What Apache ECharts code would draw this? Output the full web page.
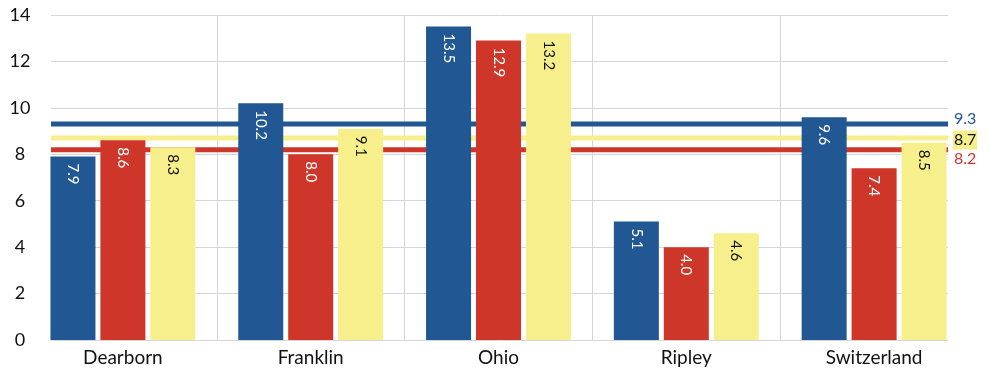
<!DOCTYPE html>
<html>
<head>
<meta charset="utf-8">
<script src="https://cdn.jsdelivr.net/npm/echarts@6/dist/echarts.min.js"></script>
<style>
  html, body { margin: 0; padding: 0; background: #fff; }
  #chart { width: 989px; height: 373px; }
</style>
</head>
<body>
<div id="chart"></div>
<script>
// County values for three series, plus each series' average
const counties = ['Dearborn', 'Franklin', 'Ohio', 'Ripley', 'Switzerland'];
const blueValues = [7.9, 10.2, 13.5, 5.1, 9.6];
const redValues = [8.6, 8.0, 12.9, 4.0, 7.4];
const yellowValues = [8.3, 9.1, 13.2, 4.6, 8.5];
const averages = { blue: 9.3, yellow: 8.7, red: 8.2 };
const yTicks = { min: 0, max: 14, interval: 2 };

const FONT = 'Lato, "Open Sans", sans-serif';
const BLUE = '#215793';
const RED = '#cd3629';
const YELLOW = '#f7ef8b';
const GRID_GRAY = '#d6d6d6';

function barSeries(name, values, color, textColor) {
  return {
    name: name,
    type: 'bar',
    xAxisIndex: 0,
    yAxisIndex: 0,
    data: values,
    barWidth: 45,
    barGap: '11%',
    z: 3,
    itemStyle: { color: color },
    label: {
      show: true,
      position: 'insideTop',
      distance: 7,
      rotate: -90,
      align: 'left',
      verticalAlign: 'middle',
      color: textColor,
      fontFamily: FONT,
      fontSize: 15,
      formatter: p => p.value.toFixed(1)
    }
  };
}

function avgSeries(value, color, label) {
  return {
    type: 'line',
    xAxisIndex: 1,
    yAxisIndex: 1,
    data: [[0, value], [1, value]],
    symbol: 'none',
    silent: true,
    z: 1,
    lineStyle: { color: color, width: 5 },
    endLabel: Object.assign({
      show: true,
      distance: 6,
      fontFamily: FONT,
      fontSize: 16,
      formatter: () => value.toFixed(1)
    }, label)
  };
}

const chart = echarts.init(document.getElementById('chart'));
chart.setOption({
  animation: false,
  backgroundColor: '#fff',
  grid: [
    { left: 29, right: 21, top: 15, bottom: 33 },
    { left: 51, right: 41, top: 15, bottom: 33 }
  ],
  xAxis: [
    {
      type: 'category',
      gridIndex: 0,
      data: counties,
      axisLine: { show: false },
      axisTick: { show: false },
      axisLabel: { color: '#111', fontFamily: FONT, fontSize: 19, margin: 8 },
      splitLine: {
        show: true,
        showMinLine: false,
        showMaxLine: false,
        lineStyle: { color: GRID_GRAY, width: 1 }
      }
    },
    {
      type: 'value',
      gridIndex: 1,
      min: 0,
      max: 1,
      show: false
    }
  ],
  yAxis: [
    {
      type: 'value',
      gridIndex: 0,
      min: yTicks.min,
      max: yTicks.max,
      interval: yTicks.interval,
      show: false
    },
    {
      type: 'value',
      gridIndex: 1,
      min: yTicks.min,
      max: yTicks.max,
      interval: yTicks.interval,
      axisLine: { show: false },
      axisTick: { show: false },
      axisLabel: { color: '#111', fontFamily: FONT, fontSize: 18, align: 'center', margin: 31 },
      splitLine: { show: true, lineStyle: { color: GRID_GRAY, width: 1 } }
    }
  ],
  series: [
    barSeries('blue', blueValues, BLUE, '#fff'),
    barSeries('red', redValues, RED, '#fff'),
    barSeries('yellow', yellowValues, YELLOW, '#111'),
    avgSeries(averages.blue, BLUE, { color: BLUE, offset: [0, -5] }),
    avgSeries(averages.yellow, YELLOW, {
      color: '#111', backgroundColor: YELLOW, padding: [2, 1, 1, 1], offset: [-1, 2]
    }),
    avgSeries(averages.red, RED, { color: RED, offset: [0, 9] })
  ]
});
</script>
</body>
</html>
